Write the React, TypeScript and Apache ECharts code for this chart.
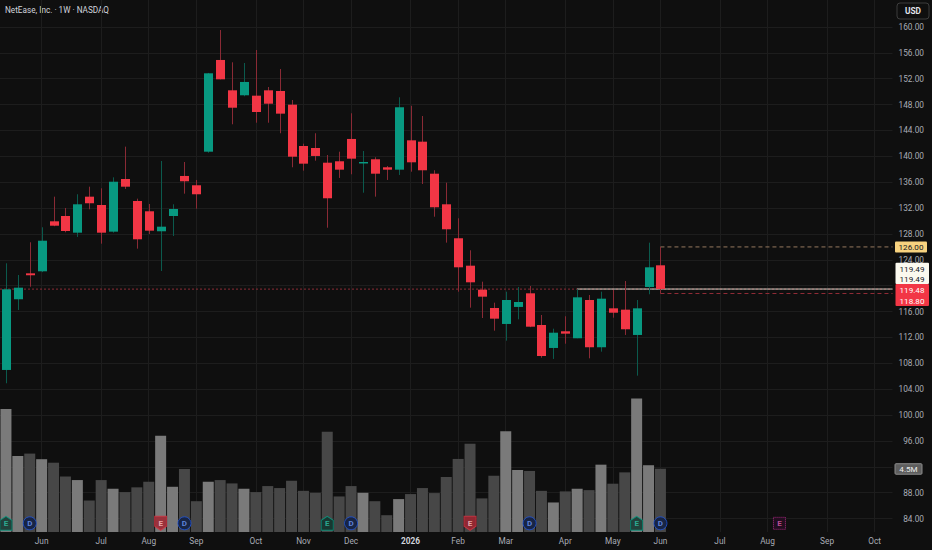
import React, { useEffect, useRef } from "react";
import * as echarts from "echarts";

// ---- data ----
const weeks = [
  "2025-05-12", "2025-05-19", "2025-05-26", "2025-06-02", "2025-06-09", "2025-06-16", "2025-06-23", "2025-06-30",
  "2025-07-07", "2025-07-14", "2025-07-21", "2025-07-28", "2025-08-04", "2025-08-11", "2025-08-18", "2025-08-25",
  "2025-09-01", "2025-09-08", "2025-09-15", "2025-09-22", "2025-09-29", "2025-10-06", "2025-10-13", "2025-10-20",
  "2025-10-27", "2025-11-03", "2025-11-10", "2025-11-17", "2025-11-24", "2025-12-01", "2025-12-08", "2025-12-15",
  "2025-12-22", "2025-12-29", "2026-01-05", "2026-01-12", "2026-01-19", "2026-01-26", "2026-02-02", "2026-02-09",
  "2026-02-16", "2026-02-23", "2026-03-02", "2026-03-09", "2026-03-16", "2026-03-23", "2026-03-30", "2026-04-06",
  "2026-04-13", "2026-04-20", "2026-04-27", "2026-05-04", "2026-05-11", "2026-05-18", "2026-05-25", "2026-06-01",
  "2026-06-08", "2026-06-15", "2026-06-22", "2026-06-29", "2026-07-06", "2026-07-13", "2026-07-20", "2026-07-27",
  "2026-08-03", "2026-08-10", "2026-08-17", "2026-08-24", "2026-08-31", "2026-09-07", "2026-09-14", "2026-09-21",
  "2026-09-28", "2026-10-05", "2026-10-12",
];

const opens = [
  106.98, 117.91, 121.92, 122.23, 129.96, 130.78, 128.2, 133.77, 132.48, 128.36, 136.5, 133.1, 131.51, 128.42,
  130.78, 136.97, 135.53, 140.72, 154.9, 150.21, 149.44, 149.38, 150.21, 150.1, 147.99, 141.6, 141.29, 139.02,
  139.24, 142.69, 138.93, 139.55, 138.31, 137.94, 142.48, 142.27, 137.32, 132.59, 127.34, 123.1, 119.39, 116.56,
  114.09, 116.72, 118.83, 113.93, 110.38, 112.96, 111.88, 117.8, 110.49, 116.51, 116.3, 112.39, 119.81, 123.16,
];
const highs = [
  123.47, 121.66, 126.72, 129.04, 133.77, 132.02, 134.14, 135.31, 135.06, 136.76, 141.5, 133.46, 132.64, 139.28,
  132.59, 139.13, 136.35, 152.9, 159.53, 154.54, 154.43, 156.44, 150.72, 153.5, 148.71, 141.96, 143.57, 140.21,
  140.72, 146.66, 140.83, 139.86, 138.51, 149.13, 147.83, 146.24, 137.85, 135.93, 130.43, 125.48, 120.63, 117.38,
  119.08, 119.81, 119.96, 115.48, 113.36, 115.28, 119.45, 118.57, 119.08, 119.34, 120.73, 117.8, 126.66, 126.0,
];
const lows = [
  104.92, 116.25, 119.85, 122.1, 129.2, 128.26, 127.54, 131.82, 126.5, 128.2, 134.96, 125.73, 128.0, 122.28,
  127.69, 134.23, 131.91, 140.56, 151.9, 144.96, 149.29, 145.2, 145.2, 143.57, 138.31, 137.79, 139.33, 128.97,
  136.66, 137.23, 134.38, 133.77, 136.35, 137.12, 137.63, 135.73, 130.67, 126.66, 119.08, 116.61, 115.01, 113.05,
  111.51, 114.81, 113.6, 108.88, 108.68, 111.04, 111.88, 108.78, 109.81, 115.06, 112.39, 106.1, 118.68, 118.8,
];
const closes = [
  119.45, 119.7, 121.62, 126.96, 129.28, 128.46, 132.59, 132.75, 128.2, 136.08, 135.31, 127.18, 128.51, 129.13,
  131.86, 136.15, 134.14, 152.84, 151.91, 147.52, 151.5, 146.86, 148.14, 146.6, 139.95, 138.87, 140.06, 133.52,
  137.94, 139.64, 139.13, 137.32, 137.94, 147.59, 139.08, 137.85, 132.13, 128.73, 122.85, 120.53, 118.31, 114.91,
  117.8, 117.49, 113.67, 109.14, 112.74, 112.59, 118.21, 110.49, 118.0, 115.83, 113.27, 116.51, 122.85, 119.49,
];
// weekly volume, millions of shares
const volumes = [
  8.79, 5.43, 5.6, 5.2, 4.95, 3.97, 3.71, 2.25, 3.71, 3.09, 2.85, 3.19, 3.59, 6.87, 3.23, 4.5, 2.2, 3.59, 3.71,
  3.47, 3.09, 2.85, 3.28, 3.14, 3.66, 2.94, 2.8, 7.16, 2.54, 3.28, 2.8, 2.2, 1.2, 2.35, 2.71, 3.14, 2.78, 3.93,
  5.22, 6.3, 2.4, 4.02, 7.2, 4.43, 4.36, 2.94, 2.11, 2.9, 3.09, 2.99, 4.81, 3.45, 4.26, 9.53, 4.77, 4.52,
];

// events: E = earnings (EU beat / ED miss / EF upcoming), D = dividend
const eventIdx = [0, 2, 13, 15, 27, 29, 39, 44, 53, 55, 65];
const eventKind = ["EU", "D", "ED", "D", "EU", "D", "ED", "D", "EU", "D", "EF"];

// horizontal price levels
const levelPrice = [119.48, 119.49, 126.0, 118.8];
const levelFrom = [-0.5, 48, 55, 55];
const levelKind = ["prevDotted", "white", "high", "low"];

// right-hand price tags
const tagHigh = 126.0;
const tagWhite = [119.49, 119.49];
const tagRed = [119.48, 118.8];
const lastVolume = 4.52;
const lastVolumeText = "4.5M";
// axis tick labels hidden under the tags
const coveredTicks = [120, 92];

const monthNames = ["Jan", "Feb", "Mar", "Apr", "May", "Jun", "Jul", "Aug", "Sep", "Oct", "Nov", "Dec"];

// ---- styles ----
const BG = "#0f0f0f";
const GRID = "#1d1d1d";
const UP = "#089981";
const DN = "#f23645";
const WICK_UP = "#0b5a4d";
const WICK_DN = "#8a2a35";
const VOL_UP = "#7a7a7a";
const VOL_DN = "#474747";
const AXIS_TXT = "#a9acb5";
const FONT = "Roboto, 'Noto Sans', sans-serif";

const LEVEL_STYLE: Record<string, any> = {
  prevDotted: { color: "#8b2c36", type: [2, 2], width: 1 },
  white: { color: "#d4d0c6", type: "solid", width: 1 },
  high: { color: "#96785f", type: [4, 3], width: 1 },
  low: { color: "#8f2b36", type: [4, 3], width: 1 },
};

const EVENT_STYLE: Record<string, any> = {
  EU: {
    symbol: "path://M0,4L6,0L12,4L12,14L0,14Z",
    size: [12, 14],
    fill: "#0c332c",
    stroke: "#0a9f86",
    text: "E",
    textColor: "#2fc4a8",
    border: "solid",
  },
  ED: {
    symbol: "path://M0,0L12,0L12,10L6,14L0,10Z",
    size: [12, 14],
    fill: "#a3202d",
    stroke: "#d63342",
    text: "E",
    textColor: "#ffc2c7",
    border: "solid",
  },
  D: {
    symbol: "circle",
    size: 13,
    fill: "#0d1d45",
    stroke: "#2258e0",
    text: "D",
    textColor: "#6f9bff",
    border: "solid",
  },
  EF: {
    symbol: "rect",
    size: 12,
    fill: "#260c22",
    stroke: "#d0329c",
    text: "E",
    textColor: "#e05fb4",
    border: "dotted",
  },
};

const isMonthStart = (i: number) => i > 0 && weeks[i].slice(5, 7) !== weeks[i - 1].slice(5, 7);

export default function App() {
  const ref = useRef<HTMLDivElement>(null);

  useEffect(() => {
    document.body.style.margin = "0";
    document.body.style.background = BG;
    if (!ref.current) return;
    const chart = echarts.init(ref.current, undefined, { renderer: "svg" });

    const candleData = opens.map((o, i) => [i, o, closes[i], lows[i], highs[i]]);
    const volData = volumes.map((v, i) => ({
      value: v,
      itemStyle: { color: closes[i] >= opens[i] ? VOL_UP : VOL_DN },
    }));
    const eventData = eventIdx.map((idx, k) => {
      const s = EVENT_STYLE[eventKind[k]];
      return {
        value: [weeks[idx], 0],
        symbol: s.symbol,
        symbolSize: s.size,
        itemStyle: { color: s.fill, borderColor: s.stroke, borderWidth: 1, borderType: s.border },
        label: { formatter: s.text, color: s.textColor },
      };
    });

    const levelSeries = levelPrice.map((p, k) => ({
      type: "line",
      xAxisIndex: 2,
      yAxisIndex: 0,
      data: [
        [levelFrom[k], p],
        [weeks.length - 0.5, p],
      ],
      showSymbol: false,
      symbol: "none",
      silent: true,
      z: 3,
      lineStyle: LEVEL_STYLE[levelKind[k]],
    }));

    const gridCommon = { left: 0, right: 39.5, outerBoundsMode: "none", containLabel: false };

    chart.setOption({
      animation: false,
      backgroundColor: BG,
      textStyle: { fontFamily: FONT },
      grid: [
        { ...gridCommon, top: 1.1, bottom: 5.5 },
        { ...gridCommon, top: 0, bottom: 18 },
      ],
      xAxis: [
        {
          type: "category",
          gridIndex: 0,
          data: weeks,
          boundaryGap: true,
          show: false,
        },
        {
          type: "category",
          gridIndex: 1,
          data: weeks,
          boundaryGap: true,
          axisLine: { show: false },
          axisTick: {
            show: true,
            inside: true,
            length: 532,
            alignWithLabel: true,
            interval: (i: number) => isMonthStart(i),
            lineStyle: { color: GRID, width: 1 },
          },
          splitLine: { show: false },
          axisLabel: {
            interval: (i: number) => isMonthStart(i),
            margin: 4.5,
            color: AXIS_TXT,
            fontSize: 8.3,
            fontFamily: FONT,
            formatter: (v: string) => {
              const [y, m] = v.split("-");
              if (m === "01") return "{y|" + y + "}";
              return monthNames[parseInt(m, 10) - 1];
            },
            rich: { y: { fontWeight: "bold", color: "#d1d4dc", fontSize: 8.3, fontFamily: FONT } },
          },
        },
        {
          type: "value",
          gridIndex: 0,
          min: -0.5,
          max: weeks.length - 0.5,
          show: false,
          splitLine: { show: false },
        },
      ],
      yAxis: [
        {
          type: "value",
          gridIndex: 0,
          position: "right",
          min: 80,
          max: 164,
          interval: 4,
          axisLine: { show: false },
          axisTick: { show: false },
          splitLine: { show: true, showMinLine: false, showMaxLine: false, lineStyle: { color: GRID, width: 1 } },
          axisLabel: {
            showMinLabel: false,
            showMaxLabel: false,
            align: "right",
            margin: 31.5,
            color: AXIS_TXT,
            fontSize: 8.3,
            fontFamily: FONT,
            formatter: (v: number) => (coveredTicks.indexOf(v) >= 0 ? "" : v.toFixed(2)),
          },
        },
        {
          type: "value",
          gridIndex: 1,
          min: 0,
          max: 38,
          show: false,
          splitLine: { show: false },
        },
      ],
      series: [
        {
          type: "bar",
          name: "Volume",
          xAxisIndex: 1,
          yAxisIndex: 1,
          barWidth: 11,
          z: 1,
          data: volData,
          silent: true,
        },
        ...levelSeries,
        {
          type: "custom",
          name: "NTES",
          xAxisIndex: 0,
          yAxisIndex: 0,
          z: 4,
          data: candleData,
          encode: { x: 0, y: [1, 2, 3, 4] },
          renderItem: (params: any, api: any) => {
            const i = api.value(0);
            const o = api.value(1);
            const c = api.value(2);
            const l = api.value(3);
            const h = api.value(4);
            const up = c >= o;
            const pH = api.coord([i, h]);
            const pL = api.coord([i, l]);
            const pO = api.coord([i, o]);
            const pC = api.coord([i, c]);
            const bw = Math.round(api.size([1, 0])[0] * 0.78);
            const cx = Math.round(pH[0]) + 0.5;
            const top = Math.min(pO[1], pC[1]);
            const bot = Math.max(pO[1], pC[1]);
            return {
              type: "group",
              children: [
                {
                  type: "line",
                  shape: { x1: cx, y1: pH[1], x2: cx, y2: pL[1] },
                  style: { stroke: up ? WICK_UP : WICK_DN, lineWidth: 1 },
                },
                {
                  type: "rect",
                  shape: { x: cx - bw / 2, y: top, width: bw, height: Math.max(bot - top, 1.5) },
                  style: { fill: up ? UP : DN },
                },
              ],
            };
          },
        },
        {
          type: "scatter",
          name: "Events",
          xAxisIndex: 1,
          yAxisIndex: 1,
          z: 6,
          symbolOffset: [0, -8.7],
          silent: true,
          label: {
            show: true,
            position: "inside",
            fontSize: 8,
            fontWeight: "bold",
            fontFamily: FONT,
          },
          data: eventData,
        },
      ],
    });

    // price / volume tags on the right scale
    const yP = (p: number) => chart.convertToPixel({ yAxisIndex: 0 }, p) as number;
    const yV = (v: number) => chart.convertToPixel({ yAxisIndex: 1 }, v) as number;
    const tagFont = "8.1px " + FONT;
    const hY = yP(tagHigh);
    const wY = yP(tagWhite[0]);
    const vY = yV(lastVolume);

    const graphic: any[] = [
      {
        type: "text",
        left: 5,
        top: 6,
        style: { text: "NetEase, Inc. · 1W · NASDAQ", fill: "#d1d4dc", font: "8.2px " + FONT },
      },
      {
        type: "rect",
        shape: { x: 897, y: 3, width: 32, height: 16, r: 3 },
        style: { fill: "transparent", stroke: "#3d3d3d", lineWidth: 1 },
      },
      {
        type: "text",
        x: 913,
        y: 11,
        style: { text: "USD", fill: "#e0e3eb", font: "bold 8.3px " + FONT, align: "center", verticalAlign: "middle" },
      },
      // high tag
      {
        type: "rect",
        shape: { x: 895, y: hY - 5.5, width: 32, height: 11, r: 1 },
        style: { fill: "#f7d27f" },
        z: 10,
      },
      {
        type: "text",
        x: 911,
        y: hY,
        z: 11,
        style: { text: tagHigh.toFixed(2), fill: "#131722", font: tagFont, align: "center", verticalAlign: "middle" },
      },
      // white tags
      {
        type: "rect",
        shape: { x: 895.5, y: wY - 26.3, width: 33.5, height: 21.3, r: 1 },
        style: { fill: "#fbf9ef" },
        z: 10,
      },
      ...tagWhite.map((v, k) => ({
        type: "text",
        x: 912,
        y: wY - 20 + k * 10.4,
        z: 11,
        style: { text: v.toFixed(2), fill: "#131722", font: tagFont, align: "center", verticalAlign: "middle" },
      })),
      // red tags
      {
        type: "rect",
        shape: { x: 895.5, y: wY - 5, width: 33.5, height: 22, r: 1 },
        style: { fill: DN },
        z: 10,
      },
      ...tagRed.map((v, k) => ({
        type: "text",
        x: 912,
        y: wY + 1.3 + k * 10.6,
        z: 11,
        style: { text: v.toFixed(2), fill: "#ffffff", font: tagFont, align: "center", verticalAlign: "middle" },
      })),
      // volume tag
      {
        type: "rect",
        shape: { x: 895, y: vY - 5, width: 27, height: 10.5, r: 1 },
        style: { fill: "#5e5e5e", stroke: "#8c8c8c", lineWidth: 1 },
        z: 10,
      },
      {
        type: "text",
        x: 908.5,
        y: vY + 0.3,
        z: 11,
        style: { text: lastVolumeText, fill: "#ececec", font: tagFont, align: "center", verticalAlign: "middle" },
      },
    ];
    chart.setOption({ graphic });

    return () => chart.dispose();
  }, []);

  return <div ref={ref} style={{ width: 932, height: 550 }} />;
}
